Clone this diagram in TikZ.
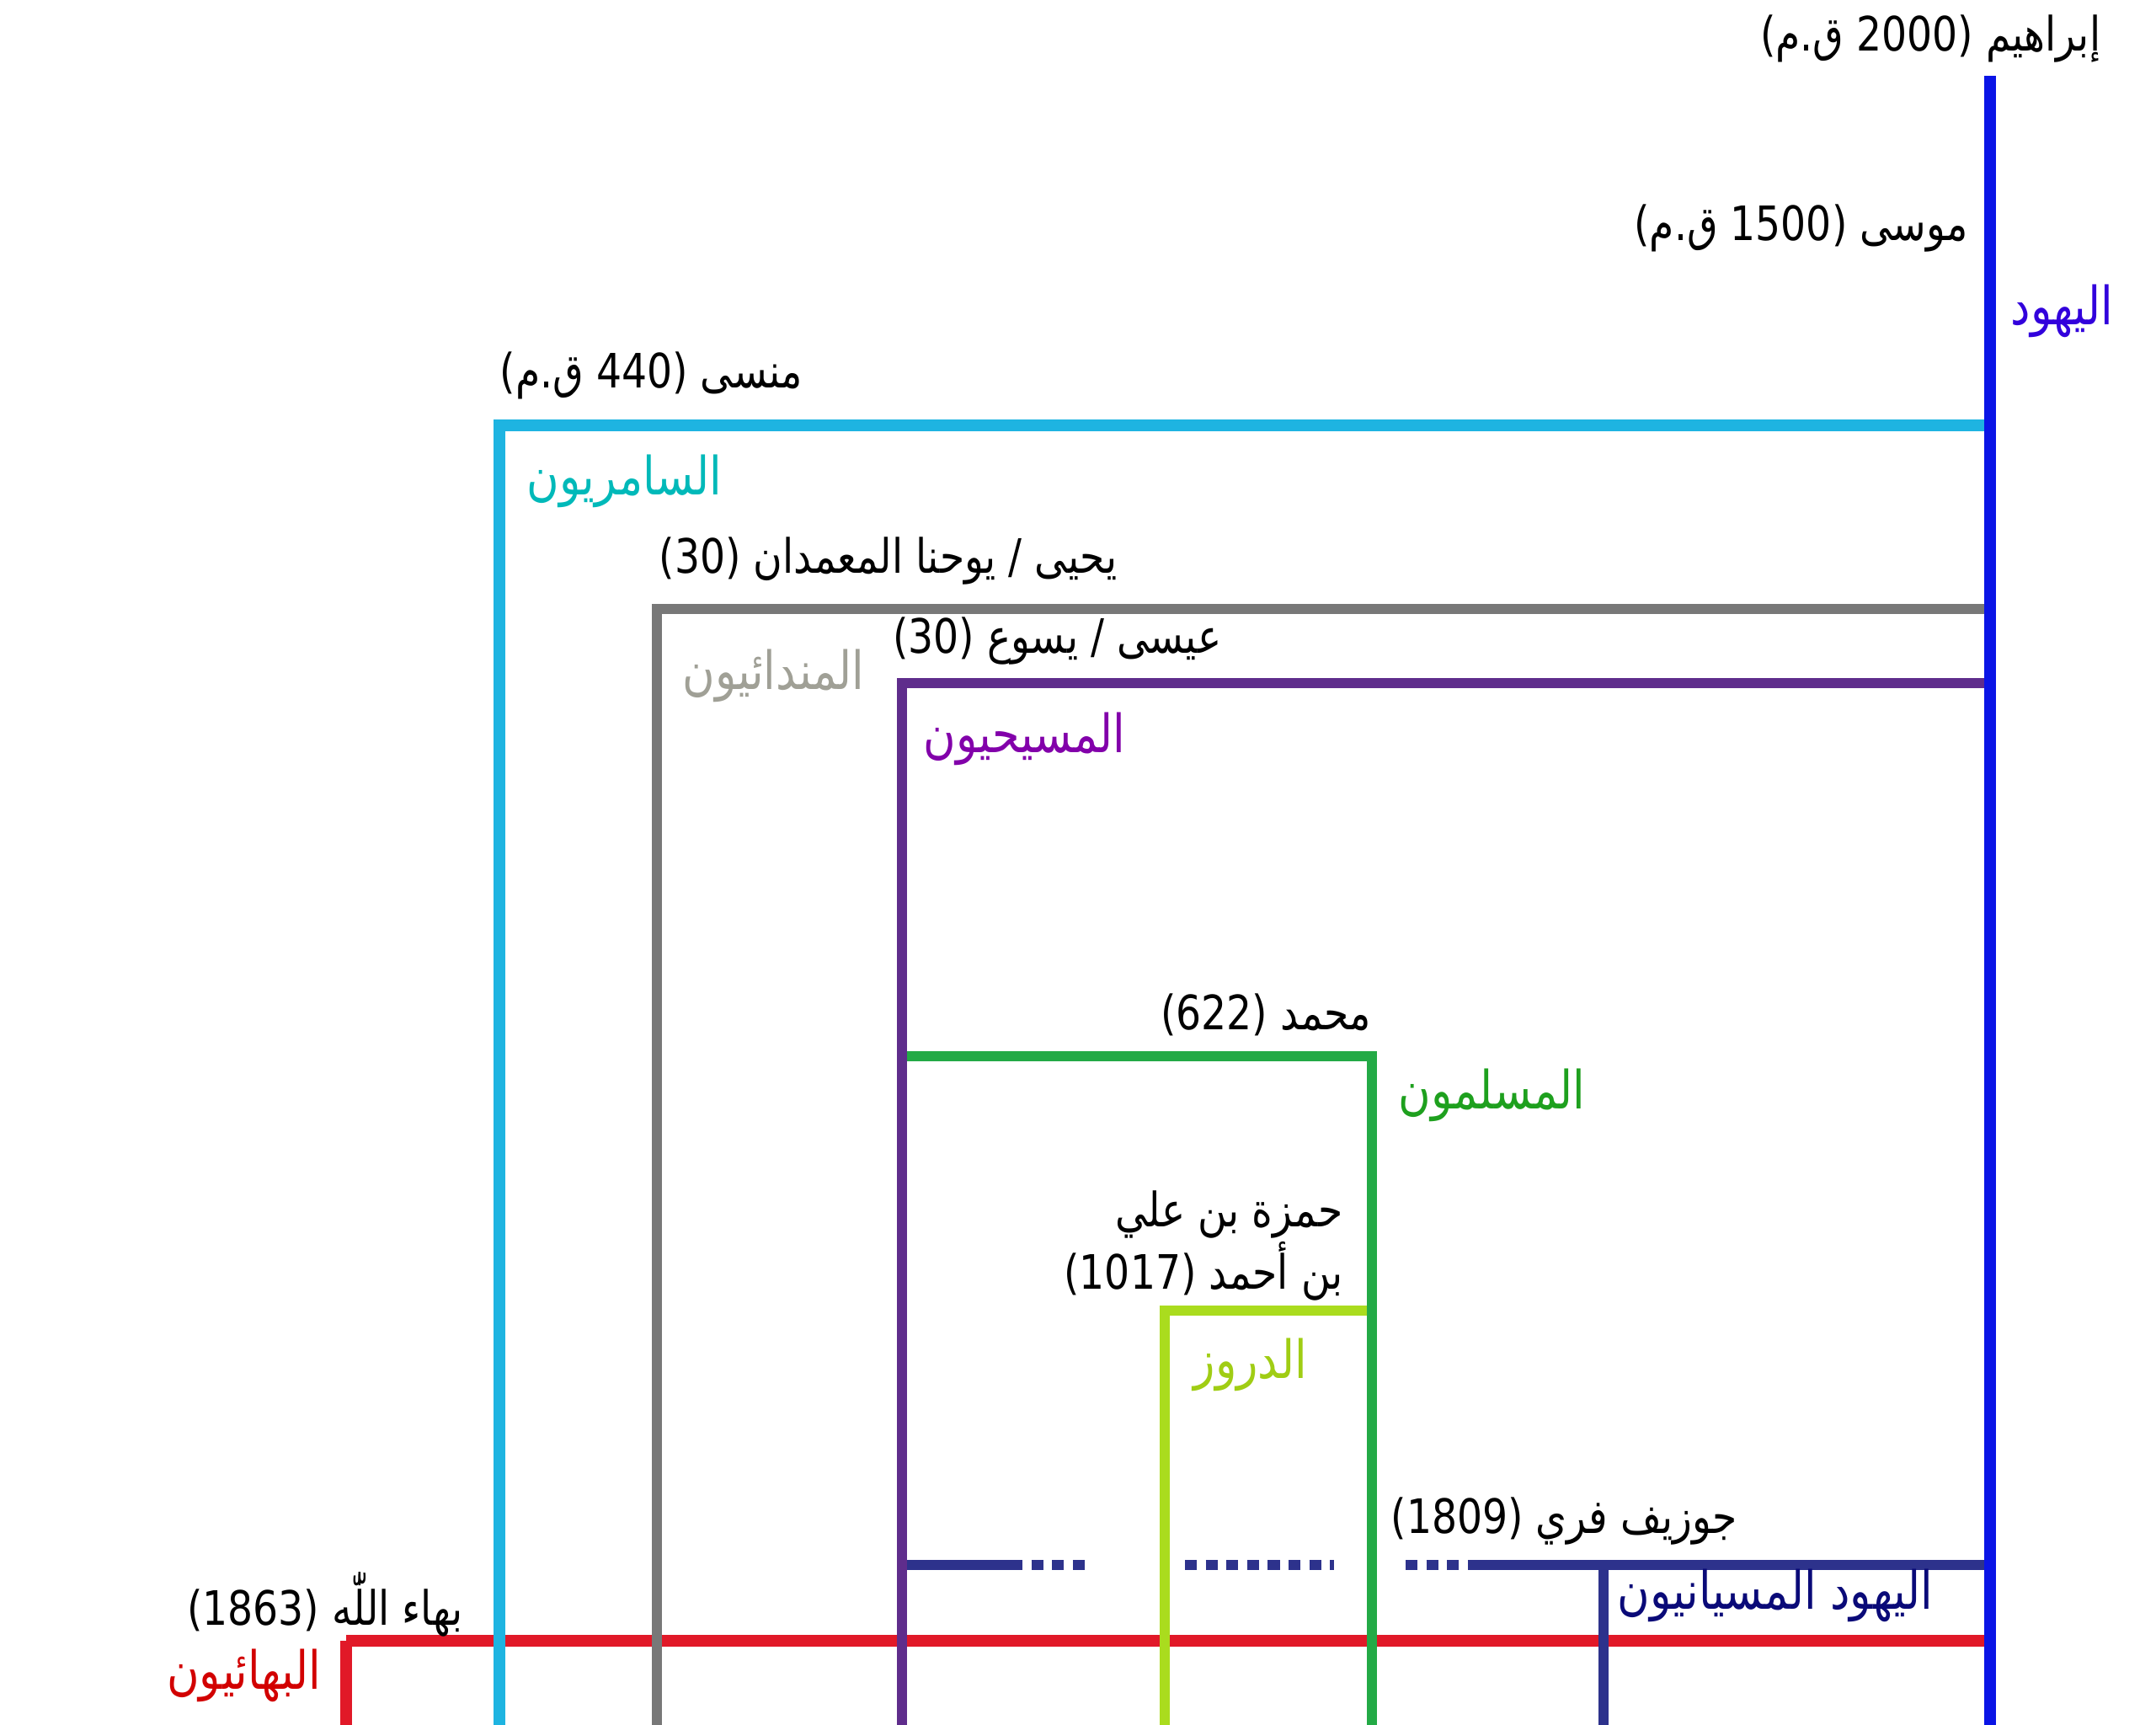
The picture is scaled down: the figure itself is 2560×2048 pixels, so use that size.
\documentclass[tikz,border=0pt]{standalone}
\usepackage{graphicx}
\usepackage{fontspec}
\newfontfamily\arabicfont[Script=Arabic]{DejaVu Sans}
\TeXXeTstate=1
\newcommand{\ar}[1]{\scalebox{0.84}[1]{\arabicfont\beginR #1\endR}}
\definecolor{cBlue}{RGB}{10,20,230}
\definecolor{cCyan}{RGB}{30,180,225}
\definecolor{cGray}{RGB}{120,120,120}
\definecolor{cPurple}{RGB}{95,45,140}
\definecolor{cGreen}{RGB}{35,170,70}
\definecolor{cLime}{RGB}{170,220,30}
\definecolor{cNavy}{RGB}{45,50,140}
\definecolor{cRed}{RGB}{225,25,40}
\definecolor{tBlue}{RGB}{50,0,220}
\definecolor{tCyan}{RGB}{0,185,185}
\definecolor{tGray}{RGB}{160,160,150}
\definecolor{tPurple}{RGB}{130,0,170}
\definecolor{tGreen}{RGB}{30,160,30}
\definecolor{tLime}{RGB}{160,205,20}
\definecolor{tNavy}{RGB}{10,10,120}
\definecolor{tRed}{RGB}{210,0,0}
\begin{document}
\begin{tikzpicture}[x=0.01cm,y=-0.01cm,
  lbl/.style={inner sep=0pt, font=\fontsize{16}{20}\selectfont, align=right},
  clbl/.style={inner sep=0pt, font=\fontsize{17.8}{22}\selectfont, anchor=west},
  ln/.style={line width=3.3pt},
  lnb/.style={line width=4pt},
  dots/.style={line width=3.3pt, cNavy, dash pattern=on 4pt off 3pt}]
\useasboundingbox[fill=white] (0,0) rectangle (2560,2048);
% horizontals first (verticals drawn on top)
\draw[lnb,cRed] (411,1948) -- (2363,1948);
\draw[ln,cNavy] (1071,1858) -- (1200,1858);
\draw[dots] (1200,1858) -- (1290,1858);
\draw[dots] (1407,1858) -- (1584,1858);
\draw[dots] (1669,1858) -- (1755,1858);
\draw[ln,cNavy] (1755,1858) -- (2363,1858);
\draw[ln,cNavy] (1904,1858) -- (1904,2060);
% Red
\draw[lnb,cRed] (411,2060) -- (411,1948);
% Lime
\draw[ln,cLime] (1383,2060) -- (1383,1556) -- (1629,1556);
% Green
\draw[ln,cGreen] (1071,1254) -- (1629,1254) -- (1629,2060);
% Purple
\draw[ln,cPurple] (1071,2060) -- (1071,811) -- (2363,811);
% Gray
\draw[ln,cGray] (780,2060) -- (780,723) -- (2363,723);
% Cyan
\draw[lnb,cCyan] (593,2060) -- (593,505) -- (2363,505);
% Blue
\draw[lnb,cBlue] (2363,90) -- (2363,2060);

% labels
\node[lbl,anchor=east] (ibr) at (2495,46) {\ar{إبراهيم (2000 ق.م)}};
\node[lbl,anchor=east] (mus) at (2338,271) {\ar{موسى (1500 ق.م)}};
\node[clbl,text=tBlue] (yah) at (2387,369) {\ar{اليهود}};
\node[lbl,anchor=west] (man) at (593,446) {\ar{منسى (440 ق.م)}};
\node[clbl,text=tCyan] (sam) at (625,571) {\ar{السامريون}};
\node[lbl,anchor=east] (yhy) at (1327,666) {\ar{يحيى / يوحنا المعمدان (30)}};
\node[clbl,text=tGray] (mnd) at (810,802) {\ar{المندائيون}};
\node[lbl,anchor=east] (isa) at (1451,761) {\ar{عيسى / يسوع (30)}};
\node[clbl,text=tPurple] (mas) at (1096,877) {\ar{المسيحيون}};
\node[lbl,anchor=east] (muh) at (1629,1205) {\ar{محمد (622)}};
\node[clbl,text=tGreen] (msl) at (1660,1300) {\ar{المسلمون}};
\node[lbl,anchor=east] (ham1) at (1595,1442) {\ar{حمزة بن علي}};
\node[lbl,anchor=east] (ham2) at (1595,1509) {\ar{بن أحمد (1017)}};
\node[clbl,text=tLime] (drz) at (1417,1620) {\ar{الدروز}};
\node[lbl,anchor=west] (jos) at (1651,1806) {\ar{جوزيف فري (1809)}};
\node[clbl,text=tNavy] (msy) at (1920,1894) {\ar{اليهود المسيانيون}};
\node[lbl,anchor=east] (bha) at (550,1905) {\ar{بهاء اللّٰه (1863)}};
\node[clbl,anchor=east,text=tRed] (bhi) at (382,1989) {\ar{البهائيون}};
\end{tikzpicture}
\end{document}
